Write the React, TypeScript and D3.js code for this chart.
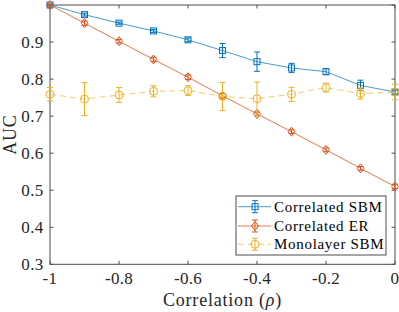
import React from "react";
import * as d3 from "d3";

const rho = [-1, -0.9, -0.8, -0.7, -0.6, -0.5, -0.4, -0.3, -0.2, -0.1, 0];
const sbmAuc = [1.0, 0.974, 0.951, 0.93, 0.906, 0.877, 0.847, 0.83, 0.82, 0.783, 0.765];
const sbmErr = [0.002, 0.004, 0.003, 0.004, 0.005, 0.019, 0.026, 0.0125, 0.008, 0.014, 0.005];
const erAuc = [1.0, 0.951, 0.902, 0.853, 0.805, 0.755, 0.706, 0.658, 0.609, 0.559, 0.51];
const erErr = [0.003, 0.006, 0.005, 0.006, 0.006, 0.006, 0.005, 0.005, 0.005, 0.005, 0.006];
const monoAuc = [0.759, 0.746, 0.757, 0.767, 0.769, 0.753, 0.747, 0.759, 0.777, 0.761, 0.765];
const monoErr = [0.018, 0.0445, 0.02, 0.015, 0.013, 0.038, 0.045, 0.019, 0.012, 0.015, 0.021];
const xTicks = [-1, -0.8, -0.6, -0.4, -0.2, 0];
const yTicks = [0.3, 0.4, 0.5, 0.6, 0.7, 0.8, 0.9, 1.0];
const seriesNames = ["Correlated SBM", "Correlated ER", "Monolayer SBM"];

const FONT = "'Liberation Serif', 'DejaVu Serif', serif";

export default function App() {
  const L = 50, R = 395, T = 5, B = 264.3;
  const x = d3.scaleLinear().domain([-1, 0]).range([L, R]);
  const y = d3.scaleLinear().domain([0.3, 1.0]).range([B, T]);
  const line = d3
    .line<[number, number]>()
    .x((d) => x(d[0]))
    .y((d) => y(d[1]));

  const series = [
    { vals: sbmAuc, err: sbmErr, color: "#0072BD", light: "#4A9AD3", marker: "square", dash: "" },
    { vals: erAuc, err: erErr, color: "#D95319", light: "#E57A4D", marker: "diamond", dash: "" },
    { vals: monoAuc, err: monoErr, color: "#EDB120", light: "#F3CC6A", marker: "circle", dash: "6,4" },
  ];

  const drawMarker = (kind: string, cx: number, cy: number, color: string, key: string) => {
    if (kind === "square")
      return <rect key={key} x={cx - 3} y={cy - 3} width={6} height={6} fill="none" stroke={color} strokeWidth={1} />;
    if (kind === "diamond")
      return (
        <path
          key={key}
          d={`M${cx},${cy - 4.5}L${cx + 3.5},${cy}L${cx},${cy + 4.5}L${cx - 3.5},${cy}Z`}
          fill="none"
          stroke={color}
          strokeWidth={1}
        />
      );
    return <circle key={key} cx={cx} cy={cy} r={4} fill="none" stroke={color} strokeWidth={1} />;
  };

  const errBar = (cx: number, y1: number, y2: number, color: string, key: string) => (
    <g key={key} stroke={color} strokeWidth={1}>
      <line x1={cx} x2={cx} y1={y1} y2={y2} />
      <line x1={cx - 3} x2={cx + 3} y1={y1} y2={y1} />
      <line x1={cx - 3} x2={cx + 3} y1={y2} y2={y2} />
    </g>
  );

  const legX = 236, legY = 196, legW = 150, legH = 59;
  const rowY = [206.7, 226, 244.3];

  return (
    <svg
      width={399}
      height={312}
      style={{ position: "absolute", left: 0, top: 0, background: "#fff" }}
      fontFamily={FONT}
    >
      <rect x={0} y={0} width={399} height={312} fill="#fff" />
      <rect x={L} y={T} width={R - L} height={B - T} fill="none" stroke="#4d4d4d" strokeWidth={1} />
      {xTicks.map((t, i) => (
        <g key={"xt" + i}>
          <line x1={x(t)} x2={x(t)} y1={B} y2={B - 3.5} stroke="#4d4d4d" />
          <line x1={x(t)} x2={x(t)} y1={T} y2={T + 3.5} stroke="#4d4d4d" />
          <text x={x(t)} y={283.5} textAnchor="middle" fontSize={17} letterSpacing={0.3} fill="#262626">
            {String(t)}
          </text>
        </g>
      ))}
      {yTicks.map((t, i) => (
        <g key={"yt" + i}>
          <line x1={L} x2={L + 3.5} y1={y(t)} y2={y(t)} stroke="#4d4d4d" />
          <line x1={R} x2={R - 3.5} y1={y(t)} y2={y(t)} stroke="#4d4d4d" />
          {t < 1 && (
            <text x={43.5} y={y(t) + 5.7} textAnchor="end" fontSize={17} letterSpacing={0.3} fill="#262626">
              {t.toFixed(1)}
            </text>
          )}
        </g>
      ))}
      <text x={(L + R) / 2} y={305.5} textAnchor="middle" fontSize={18} letterSpacing={0.8} fill="#262626">
        Correlation (<tspan fontStyle="italic">ρ</tspan>)
      </text>
      <text
        transform={`translate(15.5,${(T + B) / 2}) rotate(-90)`}
        textAnchor="middle"
        fontSize={18}
        letterSpacing={0.8}
        fill="#262626"
      >
        AUC
      </text>
      {series.map((s, si) => (
        <g key={"s" + si}>
          <path
            d={line(rho.map((r, i) => [r, s.vals[i]] as [number, number])) || ""}
            fill="none"
            stroke={s.light}
            strokeWidth={1}
            strokeDasharray={s.dash}
          />
          {rho.map((r, i) =>
            errBar(x(r), y(s.vals[i] + s.err[i]), y(s.vals[i] - s.err[i]), s.color, `e${si}-${i}`)
          )}
          {rho.map((r, i) => drawMarker(s.marker, x(r), y(s.vals[i]), s.color, `m${si}-${i}`))}
        </g>
      ))}
      <rect x={legX} y={legY} width={legW} height={legH} fill="#fff" stroke="#4d4d4d" strokeWidth={1} />
      {series.map((s, si) => (
        <g key={"l" + si}>
          <line
            x1={legX + 2}
            x2={legX + 35}
            y1={rowY[si]}
            y2={rowY[si]}
            stroke={s.light}
            strokeWidth={1}
            strokeDasharray={s.dash}
          />
          {errBar(legX + 19, rowY[si] - 6, rowY[si] + 6, s.color, "le" + si)}
          {drawMarker(s.marker, legX + 19, rowY[si], s.color, "lm" + si)}
          <text x={legX + 38} y={rowY[si] + 5} fontSize={15} letterSpacing={0.7} fill="#000">
            {seriesNames[si]}
          </text>
        </g>
      ))}
    </svg>
  );
}
